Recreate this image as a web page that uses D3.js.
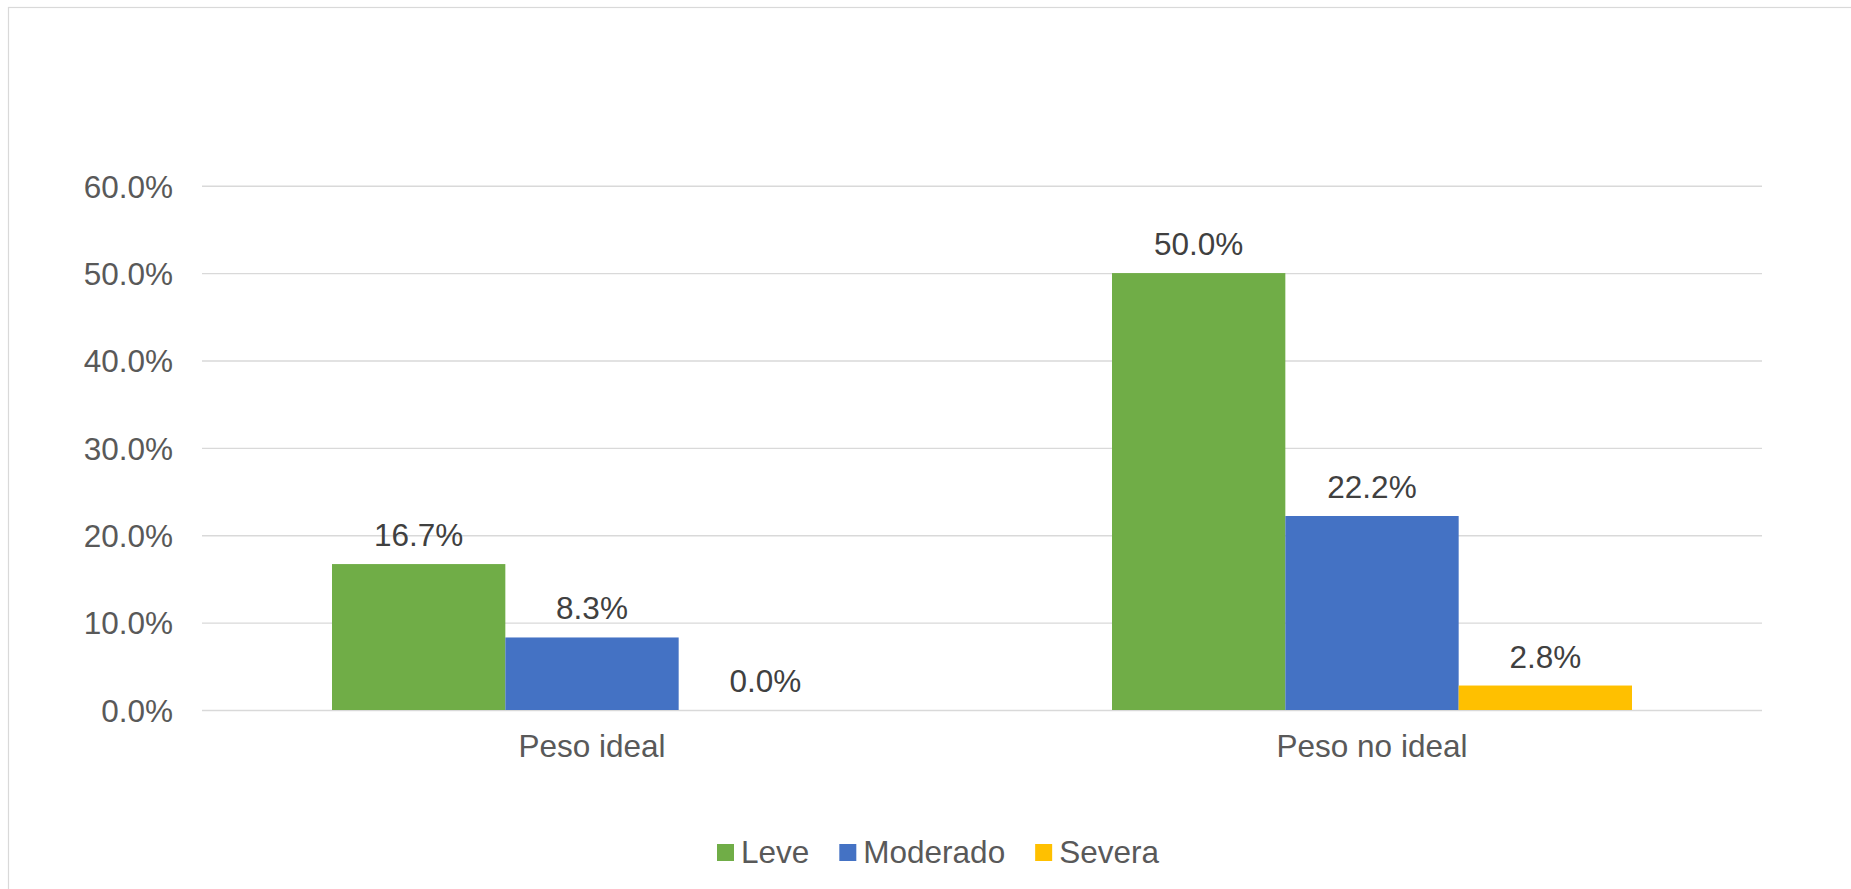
<!DOCTYPE html>
<html>
<head>
<meta charset="utf-8">
<script src="https://cdn.jsdelivr.net/npm/d3@7"></script>
<style>
  html, body { margin: 0; padding: 0; background: #ffffff; overflow: hidden; }
  svg { display: block; font-family: Arial, "Liberation Sans", sans-serif; }
</style>
</head>
<body>
<svg id="chart" width="1851" height="889"></svg>
<script>
// Categories, series and values
const categories = ["Peso ideal", "Peso no ideal"];
const seriesNames = ["Leve", "Moderado", "Severa"];
const leve = [16.7, 50.0];
const moderado = [8.3, 22.2];
const severa = [0.0, 2.8];
const yTicks = [0, 10, 20, 30, 40, 50, 60];
const seriesColors = ["#70ad47", "#4472c4", "#ffc000"];

const seriesValues = [leve, moderado, severa];
const FONT = 31.5;

const svg = d3.select("#chart");
const W = 1851, H = 889;

// Chart frame (runs off the right and bottom edges)
svg.append("rect")
  .attr("x", 8.5).attr("y", 7.5)
  .attr("width", W).attr("height", H)
  .attr("fill", "#ffffff")
  .attr("stroke", "#d9d9d9")
  .attr("stroke-width", 1.2);

const plot = { left: 202, right: 1762, top: 185.7, bottom: 710 };

const y = d3.scaleLinear().domain([0, 60]).range([plot.bottom, plot.top]);

const x0 = d3.scaleBand().domain(categories).range([plot.left, plot.right]).padding(0);
// three bars per group, gap between groups of 1.5 bar widths
const groupW = x0.bandwidth() * 3 / 4.5;
const x1 = d3.scaleBand().domain(seriesNames)
  .range([(x0.bandwidth() - groupW) / 2, (x0.bandwidth() + groupW) / 2]).padding(0);

// Gridlines and value axis labels
const yAxis = d3.axisLeft(y).tickValues(yTicks).tickSize(-(plot.right - plot.left))
  .tickFormat(d => d.toFixed(1) + "%").tickPadding(29);
const gy = svg.append("g").attr("transform", `translate(${plot.left},0)`).call(yAxis);
gy.select(".domain").remove();
gy.selectAll(".tick line").attr("stroke", "#d9d9d9").attr("stroke-width", 1.4);
gy.selectAll(".tick text")
  .attr("fill", "#595959")
  .attr("font-size", FONT)
  .attr("dy", "0.36em");

// Bars
const rows = [];
categories.forEach((c, ci) => {
  seriesNames.forEach((s, si) => {
    rows.push({ cat: c, series: s, value: seriesValues[si][ci], color: seriesColors[si] });
  });
});

svg.append("g").selectAll("rect").data(rows).join("rect")
  .attr("x", d => x0(d.cat) + x1(d.series))
  .attr("width", x1.bandwidth())
  .attr("y", d => y(d.value))
  .attr("height", d => y(0) - y(d.value))
  .attr("fill", d => d.color);

// Value labels
svg.append("g").selectAll("text").data(rows).join("text")
  .attr("x", d => x0(d.cat) + x1(d.series) + x1.bandwidth() / 2)
  .attr("y", d => y(d.value) - 18)
  .attr("text-anchor", "middle")
  .attr("fill", "#404040")
  .attr("font-size", FONT)
  .text(d => d.value.toFixed(1) + "%");

// Category labels
const xAxis = d3.axisBottom(x0).tickSize(0).tickPadding(0);
const gx = svg.append("g").attr("transform", `translate(0,${plot.bottom})`).call(xAxis);
gx.select(".domain").remove();
gx.selectAll(".tick text")
  .attr("fill", "#595959")
  .attr("font-size", FONT)
  .attr("y", 47)
  .attr("dy", 0);

// Legend
const legend = svg.append("g");
let lx = 717;
seriesNames.forEach((s, i) => {
  legend.append("rect")
    .attr("x", lx).attr("y", 844)
    .attr("width", 17).attr("height", 17)
    .attr("fill", seriesColors[i]);
  const t = legend.append("text")
    .attr("x", lx + 24).attr("y", 863)
    .attr("fill", "#595959")
    .attr("font-size", FONT)
    .text(s);
  lx += 24 + t.node().getComputedTextLength() + 30;
});
</script>
</body>
</html>
